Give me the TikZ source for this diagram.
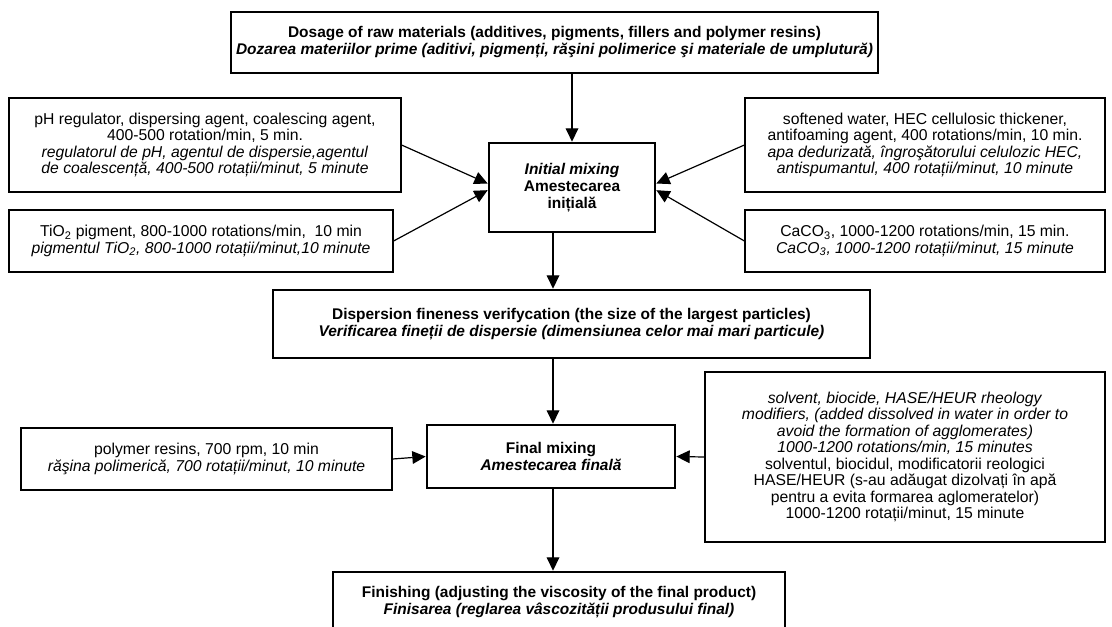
\documentclass[tikz,border=0pt]{standalone}
\usepackage{fontspec}
\setmainfont{Liberation Sans}
\usepackage{tikz}
\usetikzlibrary{arrows.meta, positioning, calc}

\begin{document}
\begin{tikzpicture}[
  x=0.75pt, y=-0.75pt,
  stage/.style={draw, line width=2pt, inner sep=2pt, align=center, font=\fontsize{11.6}{12.6}\selectfont\bfseries},
  input/.style={draw, line width=0.9pt, inner sep=2pt, align=center, font=\fontsize{11.8}{12.4}\selectfont},
  arr/.style={-{Triangle[length=10pt, width=9.5pt]}, line width=0.9pt},
]
\useasboundingbox (0,0) rectangle (1112,626);

% Stages
\node[stage, minimum width=485.25pt, minimum height=45.75pt] (dosage) at (554.5,42.5)
  {Dosage of raw materials (additives, pigments, fillers and polymer resins)\\
   \textit{Dozarea materiilor prime (aditivi, pigmenți, răşini polimerice şi materiale de umplutură)}};
\node[stage, minimum width=124.5pt, minimum height=66.75pt] (init) at (572,187.5)
  {\textit{Initial mixing}\\ Amestecarea\\ inițială};
\node[stage, minimum width=447.75pt, minimum height=51pt] (disp) at (571.5,324)
  {Dispersion fineness verifycation (the size of the largest particles)\\
   \textit{Verificarea fineții de dispersie (dimensiunea celor mai mari particule)}};
\node[stage, minimum width=186pt, minimum height=47.25pt] (final) at (551,456.5)
  {Final mixing\\ \textit{Amestecarea finală}};
\node[stage, minimum width=339pt, minimum height=45pt] (finish) at (559,602)
  {Finishing (adjusting the viscosity of the final product)\\
   \textit{Finisarea (reglarea vâscozității produsului final)}};
\coordinate (axis) at (553,0);

% Inputs
\node[input, minimum width=294pt, minimum height=70.5pt] (phreg) at (205,145)
  {pH regulator, dispersing agent, coalescing agent,\\ 400-500 rotation/min, 5 min.\\
   \textit{regulatorul de pH, agentul de dispersie,agentul}\\
   \textit{de coalescență, 400-500 rotații/minut, 5 minute}};
\node[input, minimum width=288pt, minimum height=46.5pt] (tio) at (201,241)
  {TiO\textsubscript{2} pigment, 800-1000 rotations/min,\ \ 10 min\\
   \textit{pigmentul TiO\textsubscript{2}, 800-1000 rotații/minut,10 minute}};
\node[input, minimum width=270pt, minimum height=70.5pt] (water) at (925,145)
  {softened water, HEC cellulosic thickener,\\ antifoaming agent, 400 rotations/min, 10 min.\\
   \textit{apa dedurizată, îngroşătorului celulozic HEC,}\\
   \textit{antispumantul, 400 rotații/minut, 10 minute}};
\node[input, minimum width=270pt, minimum height=46.5pt] (caco) at (925,241)
  {CaCO\textsubscript{3}, 1000-1200 rotations/min, 15 min.\\
   \textit{CaCO\textsubscript{3}, 1000-1200 rotații/minut, 15 minute}};
\node[input, minimum width=278.25pt, minimum height=46.5pt] (resin) at (206.5,459)
  {polymer resins, 700 rpm, 10 min\\
   \textit{răşina polimerică, 700 rotații/minut, 10 minute}};
\node[input, minimum width=300pt, minimum height=127.5pt] (solvent) at (905,457)
  {\textit{solvent, biocide, HASE/HEUR rheology}\\
   \textit{modifiers, (added dissolved in water in order to}\\
   \textit{avoid the formation of agglomerates)}\\
   \textit{1000-1200 rotations/min, 15 minutes}\\
   solventul, biocidul, modificatorii reologici\\
   HASE/HEUR (s-au adăugat dizolvați în apă\\
   pentru a evita formarea aglomeratelor)\\
   1000-1200 rotații/minut, 15 minute};

% Flow
\draw[arr] (dosage.south -| init.north) -- (init.north);
\draw[arr] (phreg.east) -- ([yshift=3pt]init.west);
\draw[arr] (tio.east) -- ([yshift=-2pt]init.west);
\draw[arr] (water.west) -- ([yshift=3pt]init.east);
\draw[arr] (caco.west) -- ([yshift=-2pt]init.east);
\draw[arr] (init.south -| axis) -- (disp.north -| axis);
\draw[arr] (disp.south -| axis) -- (final.north -| axis);
\draw[arr] (resin.east) -- (final.west);
\draw[arr] (solvent.west) -- (final.east);
\draw[arr] (final.south -| axis) -- (finish.north -| axis);

\end{tikzpicture}
\end{document}
